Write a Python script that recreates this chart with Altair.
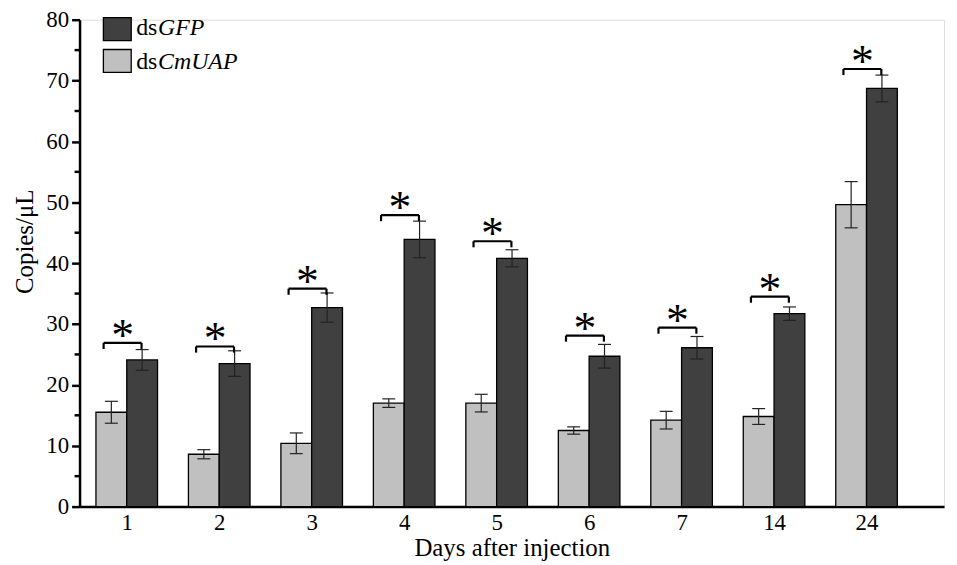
import altair as alt
import pandas as pd

days = ["1", "2", "3", "4", "5", "6", "7", "14", "24"]
uap = [15.5, 8.6, 10.4, 17.0, 17.0, 12.5, 14.2, 14.8, 49.6]
uap_err = [1.8, 0.75, 1.7, 0.7, 1.45, 0.6, 1.45, 1.3, 3.8]
gfp = [24.1, 23.5, 32.7, 43.9, 40.8, 24.7, 26.1, 31.7, 68.7]
gfp_err = [1.7, 2.1, 2.4, 3.0, 1.4, 1.95, 1.85, 1.1, 2.2]
bracket = [26.9, 26.3, 35.8, 47.9, 43.6, 28.1, 29.4, 34.5, 71.9]
series = ["dsGFP", "dsCmUAP"]

FONT = "Liberation Serif"
BW = 0.333   # bar width in category units
CAP = 0.07   # half cap width

rows = []
for i, d in enumerate(days):
    idx = i + 1
    for name, vals, errs, side in (("dsCmUAP", uap, uap_err, -1), ("dsGFP", gfp, gfp_err, 1)):
        x0 = idx if side > 0 else idx - BW
        x1 = idx + BW if side > 0 else idx
        xc = (x0 + x1) / 2
        rows.append(dict(day=d, idx=idx, series=name, value=vals[i],
                         lo=vals[i] - errs[i], hi=vals[i] + errs[i],
                         x0=x0, x1=x1, xc=xc, cl=xc - CAP, cr=xc + CAP))
df = pd.DataFrame(rows)

brows = []
for i, d in enumerate(days):
    idx = i + 1
    bl, br = idx - 0.25, idx + 0.16
    brows.append(dict(idx=idx, bl=bl, br=br, bm=(bl + br) / 2,
                      top=bracket[i], leg=bracket[i] - 1.0))
bdf = pd.DataFrame(brows)

xscale = alt.Scale(domain=[0.4896, 9.838], nice=False, zero=False)
yscale = alt.Scale(domain=[0, 80], nice=False)

label_expr = "[" + ",".join("'%s'" % d for d in days) + "][datum.value - 1]"

x_axis = alt.Axis(values=list(range(1, len(days) + 1)), labelExpr=label_expr,
                  ticks=False, grid=False, domainColor="black", domainWidth=2.5,
                  labelFont=FONT, labelFontSize=23, labelColor="black", labelPadding=5,
                  title="Days after injection", titleFont=FONT, titleFontSize=25,
                  titleFontWeight="normal", titleColor="black", titlePadding=1)
y_axis = alt.Axis(values=list(range(0, 81, 10)), grid=False, tickSize=8, tickWidth=2.5,
                  tickColor="black", domainColor="black", domainWidth=2.5,
                  labelFont=FONT, labelFontSize=23, labelColor="black", labelPadding=3,
                  title="Copies/μL", titleFont=FONT, titleFontSize=25,
                  titleFontWeight="normal", titleColor="black", titlePadding=8,
                  titleY=223)

base = alt.Chart(df)

bars = base.mark_rect(stroke="black", strokeWidth=1.3).encode(
    x=alt.X("x0:Q", scale=xscale, axis=x_axis),
    x2="x1:Q",
    y=alt.Y("value:Q", scale=yscale, axis=y_axis),
    y2=alt.datum(0),
    fill=alt.Fill("series:N", scale=alt.Scale(domain=series, range=["#404040", "#c0c0c0"]),
                  legend=None),
)

err_v = base.mark_rule(color="#222222", strokeWidth=1.2).encode(
    x="xc:Q", y="lo:Q", y2="hi:Q")
cap_hi = base.mark_rule(color="#222222", strokeWidth=1.2).encode(
    x="cl:Q", x2="cr:Q", y="hi:Q")
cap_lo = base.mark_rule(color="#222222", strokeWidth=1.2).encode(
    x="cl:Q", x2="cr:Q", y="lo:Q")

bbase = alt.Chart(bdf)
br_h = bbase.mark_rule(color="black", strokeWidth=2.2).encode(
    x="bl:Q", x2="br:Q", y="top:Q")
br_l = bbase.mark_rule(color="black", strokeWidth=2.2).encode(
    x="bl:Q", y="top:Q", y2="leg:Q")
br_r = bbase.mark_rule(color="black", strokeWidth=2.2).encode(
    x="br:Q", y="top:Q", y2="leg:Q")
stars = bbase.mark_text(text="*", font=FONT, fontSize=46, color="black",
                        baseline="alphabetic", align="center", dy=8).encode(
    x="bm:Q", y="top:Q")

minor = alt.Chart(pd.DataFrame({"m": list(range(5, 80, 10))})).mark_rule(
    color="black", strokeWidth=2.5).encode(
    y=alt.Y("m:Q", scale=yscale), x=alt.value(-5), x2=alt.value(0))

# manual legend (mixed roman / italic text)
one = pd.DataFrame({"a": [0]})
legend_layers = []
leg_items = [("#404040", "ds", "GFP", -2, 21, 15.5), ("#c0c0c0", "ds", "CmUAP", 30, 53, 49.5)]
for fillc, plain, ital, y0, y1, yb in leg_items:
    legend_layers.append(alt.Chart(one).mark_rect(fill=fillc, stroke="black", strokeWidth=1.3).encode(
        x=alt.value(24), x2=alt.value(52), y=alt.value(y0), y2=alt.value(y1)))
    legend_layers.append(alt.Chart(one).mark_text(text=plain, font=FONT, fontSize=24, color="black",
                                                  align="left", baseline="alphabetic").encode(
        x=alt.value(57), y=alt.value(yb)))
    legend_layers.append(alt.Chart(one).mark_text(text=ital, font=FONT, fontSize=24, color="black",
                                                  fontStyle="italic", align="left",
                                                  baseline="alphabetic").encode(
        x=alt.value(79), y=alt.value(yb)))

chart = alt.layer(bars, err_v, cap_hi, cap_lo, br_h, br_l, br_r, stars, minor,
                  *legend_layers).properties(
    width=870, height=490,
    autosize=alt.AutoSizeParams(type="none"),
    padding={"left": 72, "top": 10, "right": 5, "bottom": 56},
).configure_view(stroke=None).configure(background="white")

chart.save("out.html", embed_options={"renderer": "svg", "actions": False})
